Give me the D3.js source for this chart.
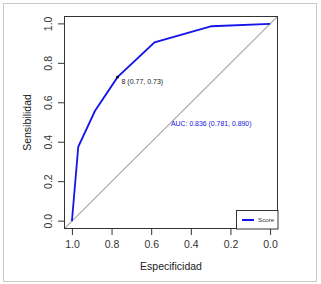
<!DOCTYPE html>
<html>
<head>
<meta charset="utf-8">
<script src="https://cdn.jsdelivr.net/npm/d3@7"></script>
<style>
  body { margin: 0; background: #fff; }
  svg { display: block; font-family: "Liberation Sans", Arial, sans-serif; }
</style>
</head>
<body>
<div id="chart"></div>
<script>
// datos de la curva ROC
const specificity = [1.0, 0.968, 0.884, 0.77, 0.583, 0.295, 0.0];
const sensitivity = [0.0, 0.377, 0.558, 0.73, 0.906, 0.988, 1.0];
const xTicks = [1.0, 0.8, 0.6, 0.4, 0.2, 0.0];
const yTicks = [0.0, 0.2, 0.4, 0.6, 0.8, 1.0];
const bestPoint = { label: "8 (0.77, 0.73)", spec: 0.77, sens: 0.73 };
const aucText = "AUC: 0.836 (0.781, 0.890)";
const aucPos = { spec: 0.5, sens: 0.49 };
const legendLabel = "Score";

const width = 321, height = 284;
const svg = d3.select("#chart").append("svg")
    .attr("width", width)
    .attr("height", height);

// marco exterior
svg.append("rect")
    .attr("x", 3.5).attr("y", 3.5)
    .attr("width", 313).attr("height", 278)
    .attr("fill", "none").attr("stroke", "#c8c8c8");

// región del gráfico
const box = { left: 64, right: 278, top: 16, bottom: 229 };
const x = d3.scaleLinear().domain([1.04, -0.04]).range([box.left, box.right]);
const y = d3.scaleLinear().domain([-0.04, 1.04]).range([box.bottom, box.top]);

svg.append("clipPath").attr("id", "clip")
    .append("rect")
    .attr("x", box.left).attr("y", box.top)
    .attr("width", box.right - box.left).attr("height", box.bottom - box.top);

const plot = svg.append("g").attr("clip-path", "url(#clip)");

// diagonal de referencia
plot.append("line")
    .attr("x1", x(1.04)).attr("y1", y(-0.04))
    .attr("x2", x(-0.04)).attr("y2", y(1.04))
    .attr("stroke", "#a8a8a8").attr("stroke-width", 1.2);

// curva
const line = d3.line()
    .x((d, i) => x(specificity[i]))
    .y((d, i) => y(sensitivity[i]));
plot.append("path")
    .datum(specificity)
    .attr("d", line)
    .attr("fill", "none")
    .attr("stroke", "#1414ec")
    .attr("stroke-width", 1.8);

// mejor umbral
svg.append("circle")
    .attr("cx", x(bestPoint.spec)).attr("cy", y(bestPoint.sens))
    .attr("r", 1.3).attr("fill", "#000");
svg.append("text")
    .attr("x", x(bestPoint.spec) + 4).attr("y", y(bestPoint.sens) + 6.5)
    .attr("font-size", 7).attr("fill", "#222")
    .text(bestPoint.label);

svg.append("text")
    .attr("x", x(aucPos.spec)).attr("y", y(aucPos.sens))
    .attr("dominant-baseline", "middle")
    .attr("font-size", 6.9).attr("fill", "#1414e0")
    .text(aucText);

// caja
svg.append("rect")
    .attr("x", box.left + 0.5).attr("y", box.top + 0.5)
    .attr("width", box.right - box.left - 1).attr("height", box.bottom - box.top - 1)
    .attr("fill", "none").attr("stroke", "#333");

// ejes
const xAxis = svg.append("g")
    .attr("transform", `translate(0,${box.bottom})`)
    .call(d3.axisBottom(x).tickValues(xTicks).tickFormat(d3.format(".1f")).tickSize(6).tickPadding(6));
const yAxis = svg.append("g")
    .attr("transform", `translate(${box.left},0)`)
    .call(d3.axisLeft(y).tickValues(yTicks).tickFormat(d3.format(".1f")).tickSize(6).tickPadding(5));

[xAxis, yAxis].forEach(g => {
    g.select(".domain").remove();
    g.selectAll("line").attr("stroke", "#333");
    g.selectAll("text")
        .attr("font-size", 10.5)
        .attr("fill", "#333")
        .attr("font-family", "Liberation Sans, Arial, sans-serif");
});

yAxis.selectAll("text")
    .attr("x", 0).attr("dy", 0)
    .attr("y", -12)
    .attr("text-anchor", "middle")
    .attr("transform", d => `translate(0,${y(d)}) rotate(-90)`);
yAxis.selectAll(".tick").attr("transform", null);
yAxis.selectAll(".tick line").attr("y1", d => y(d)).attr("y2", d => y(d));

// títulos de ejes
svg.append("text")
    .attr("x", (box.left + box.right) / 2).attr("y", 270)
    .attr("text-anchor", "middle")
    .attr("font-size", 10.5).attr("fill", "#222")
    .text("Especificidad");
svg.append("text")
    .attr("transform", `translate(31,${(box.top + box.bottom) / 2}) rotate(-90)`)
    .attr("text-anchor", "middle")
    .attr("font-size", 10.5).attr("fill", "#222")
    .text("Sensibilidad");

// leyenda
const leg = svg.append("g");
leg.append("rect")
    .attr("x", 236.5).attr("y", 210.5)
    .attr("width", box.right - 236.5).attr("height", box.bottom - 210.5)
    .attr("fill", "#fff").attr("stroke", "#333");
leg.append("line")
    .attr("x1", 242).attr("x2", 254)
    .attr("y1", 220).attr("y2", 220)
    .attr("stroke", "#1414ec").attr("stroke-width", 2);
leg.append("text")
    .attr("x", 258).attr("y", 220)
    .attr("dominant-baseline", "middle")
    .attr("font-size", 6.2).attr("fill", "#333")
    .text(legendLabel);
</script>
</body>
</html>
